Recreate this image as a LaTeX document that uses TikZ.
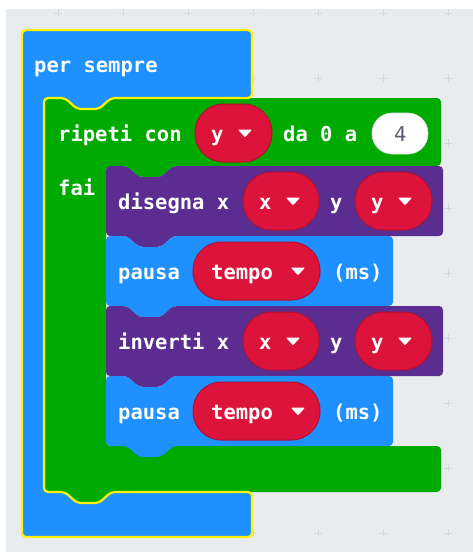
\documentclass[tikz,border=0pt]{standalone}
\usepackage{fontspec}
\setmonofont{DejaVu Sans Mono}
\definecolor{wsbg}{HTML}{E9ECEE}
\definecolor{gridmark}{HTML}{D3D8DC}
\definecolor{basicblue}{HTML}{1E90FF}
\definecolor{loopgreen}{HTML}{00AA00}
\definecolor{ledpurple}{HTML}{5C2D91}
\definecolor{varred}{HTML}{DC143C}
\definecolor{varedge}{HTML}{B01034}
\definecolor{selyellow}{HTML}{FFF200}
\definecolor{numtext}{HTML}{575E75}
\tikzset{
  blk/.style={rounded corners=4pt},
  lbl/.style={anchor=base west, inner sep=0pt, text=white,
    font=\fontsize{20.5}{24}\selectfont\ttfamily\bfseries},
  pillbox/.style={fill=varred, draw=varedge, line width=1pt, rounded corners=28.5pt},
  numbox/.style={fill=white, draw=white!85!black, line width=0.6pt, rounded corners=20pt},
  ddarrow/.style={fill=white, draw=white, line width=1pt, line join=round},
}
% statement block: left, top, right, bottom, colour
\newcommand\stmtblock[5]{%
  \fill[#5, blk] (#1,#2) -- (#1+21,#2) -- (#1+33,#2+11) -- (#1+55,#2+11) -- (#1+67,#2)
    -- (#3,#2) -- (#3,#4) -- (#1+67,#4) -- (#1+55,#4+11) -- (#1+33,#4+11)
    -- (#1+21,#4) -- (#1,#4) -- cycle;}
% variable reporter: left, right, centre y, text x, arrow x, name, text
\newcommand\varpill[7]{%
  \draw[pillbox] (#1,#3-29) rectangle (#2,#3+29);
  \node[lbl] (#6) at (#4,#3+8) {#7};
  \draw[ddarrow] (#5-6,#3-3) -- (#5+6,#3-3) -- (#5,#3+3.5) -- cycle;}
\begin{document}
\begin{tikzpicture}[x=1pt,y=-1pt]
\useasboundingbox (0,0) rectangle (473,554);
% workspace and its grid
\fill[wsbg] (6,9) rectangle (473,552);
\foreach \gx in {58,123,...,448}
  \foreach \gy in {13,78,...,533}
    \draw[gridmark, line width=0.8pt] (\gx-4,\gy) -- (\gx+4,\gy) (\gx,\gy-4) -- (\gx,\gy+4);
% "per sempre" C-block
\fill[basicblue, blk] (22,30) -- (252,30) -- (252,98) -- (111,98) -- (99,109) -- (77,109) -- (65,98)
  -- (44,98) -- (44,492) -- (65,492) -- (77,503) -- (99,503) -- (111,492)
  -- (252,492) -- (252,537) -- (22,537) -- cycle;
% "ripeti" C-block
\fill[loopgreen, blk] (44,98) -- (65,98) -- (77,109) -- (99,109) -- (111,98) -- (441,98)
  -- (441,166) -- (173,166) -- (161,177) -- (139,177) -- (127,166) -- (106,166)
  -- (106,446) -- (441,446) -- (441,492) -- (111,492) -- (99,503) -- (77,503)
  -- (65,492) -- (44,492) -- cycle;
% inner statements
\stmtblock{106}{166}{443}{236}{ledpurple}
\stmtblock{106}{236}{393}{306}{basicblue}
\stmtblock{106}{306}{443}{376}{ledpurple}
\stmtblock{106}{376}{393}{446}{basicblue}
% selection outline of the outer block
\draw[selyellow, line width=2.2pt, blk] (22,30) -- (252,30) -- (252,98) -- (111,98) -- (99,109) -- (77,109) -- (65,98)
  -- (44,98) -- (44,492) -- (65,492) -- (77,503) -- (99,503) -- (111,492)
  -- (252,492) -- (252,537) -- (22,537) -- cycle;
% labels
\node[lbl] (persempre) at (34,72) {per sempre};
\node[lbl] (ripeti) at (58,141) {ripeti con};
\varpill{195}{272}{133}{211}{245}{loopvar}{y}
\node[lbl] (range) at (283,141) {da 0 a};
\draw[numbox] (372,113) rectangle (428,154);
\node[lbl, text=numtext, font=\fontsize{20.5}{24}\selectfont\ttfamily] (limit) at (394,141) {4};
\node[lbl] (fai) at (58,195) {fai};
% disegna
\node[lbl] (plot) at (118,209) {disegna x};
\varpill{243}{319}{201}{259}{293}{plotx}{x}
\node[lbl] (ploty) at (330,209) {y};
\varpill{355}{432}{201}{371}{405}{plotyv}{y}
% pausa
\node[lbl] (pauseA) at (118,279) {pausa};
\varpill{193}{320}{271}{211}{298}{tempoA}{tempo}
\node[lbl] (msA) at (333,279) {(ms)};
% inverti
\node[lbl] (toggle) at (118,349) {inverti x};
\varpill{243}{319}{341}{259}{293}{togglex}{x}
\node[lbl] (toggley) at (330,349) {y};
\varpill{355}{432}{341}{371}{405}{toggleyv}{y}
% pausa
\node[lbl] (pauseB) at (118,419) {pausa};
\varpill{193}{320}{411}{211}{298}{tempoB}{tempo}
\node[lbl] (msB) at (333,419) {(ms)};
\end{tikzpicture}
\end{document}
